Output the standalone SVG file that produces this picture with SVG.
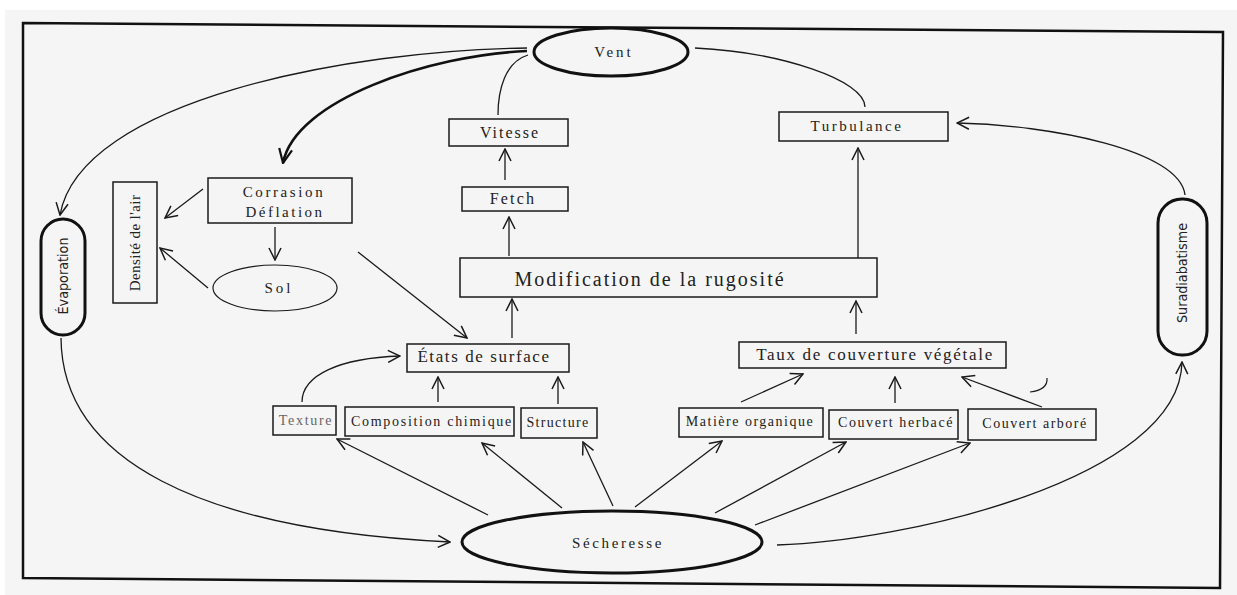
<svg xmlns="http://www.w3.org/2000/svg" width="1237" height="595" viewBox="0 0 1237 595">
<style>
.bg{fill:#f5f5f5}
.box{fill:none;stroke:#1a1a1a;stroke-width:1.5}
.thick{fill:none;stroke:#111;stroke-width:3}
.thin{fill:none;stroke:#1a1a1a;stroke-width:1.2}
.t{font-family:"Liberation Serif","Times New Roman",serif;fill:#222;text-anchor:middle}
.s{font-family:"DejaVu Sans","Liberation Sans",sans-serif;fill:#222;text-anchor:middle}
.c{fill:none;stroke:#1a1a1a;stroke-width:1.3}
.cb{fill:none;stroke:#111;stroke-width:2.6}
</style>
<defs>
<marker id="ah" viewBox="0 0 14 14" refX="13" refY="7" markerWidth="14" markerHeight="14" markerUnits="userSpaceOnUse" orient="auto">
<path d="M1,1 L13,7 L1,13" fill="none" stroke="#1a1a1a" stroke-width="1.5"/>
</marker>
<marker id="ahb" viewBox="0 0 16 16" refX="15" refY="8" markerWidth="16" markerHeight="16" markerUnits="userSpaceOnUse" orient="auto">
<path d="M1,1.5 L15,8 L1,14.5" fill="none" stroke="#111" stroke-width="2.2"/>
</marker>
</defs>
<rect x="0" y="0" width="1237" height="595" fill="#ffffff"/>
<rect class="bg" x="5" y="10" width="1232" height="585"/>
<polygon points="23,23 1223,32 1220,588 23,578" fill="none" stroke="#111" stroke-width="2.5"/>

<g id="connectors">
<path class="cb" d="M527,51 C430,55 295,100 283,163" marker-end="url(#ahb)"/>
<path class="c" d="M527,48 C350,50 80,100 60,215" marker-end="url(#ah)"/>
<path class="c" d="M528,55 C505,62 498,90 498,115"/>
<path class="c" d="M695,48 C780,52 865,80 865,107"/>
<path class="c" d="M505,180 L505,149" marker-end="url(#ah)"/>
<path class="c" d="M509,256 L509,217" marker-end="url(#ah)"/>
<path class="c" d="M858,258 L858,148" marker-end="url(#ah)"/>
<path class="c" d="M1185,195 C1180,150 1050,125 957,123" marker-end="url(#ah)"/>
<path class="c" d="M203,189 L165,218" marker-end="url(#ah)"/>
<path class="c" d="M275,227 L275,260" marker-end="url(#ah)"/>
<path class="c" d="M208,288 L160,248" marker-end="url(#ah)"/>
<path class="c" d="M358,252 L467,338" marker-end="url(#ah)"/>
<path class="c" d="M512,338 L512,299" marker-end="url(#ah)"/>
<path class="c" d="M856,334 L856,301" marker-end="url(#ah)"/>
<path class="c" d="M302,402 C302,375 340,358 400,356" marker-end="url(#ah)"/>
<path class="c" d="M438,402 L438,377" marker-end="url(#ah)"/>
<path class="c" d="M558,404 L558,377" marker-end="url(#ah)"/>
<path class="c" d="M741,402 L803,374" marker-end="url(#ah)"/>
<path class="c" d="M895,403 L895,377" marker-end="url(#ah)"/>
<path class="c" d="M1042,407 L962,377" marker-end="url(#ah)"/>
<path class="c" d="M488,515 L337,439" marker-end="url(#ah)"/>
<path class="c" d="M562,508 L482,443" marker-end="url(#ah)"/>
<path class="c" d="M613,506 L583,442" marker-end="url(#ah)"/>
<path class="c" d="M635,507 L722,441" marker-end="url(#ah)"/>
<path class="c" d="M715,513 L846,442" marker-end="url(#ah)"/>
<path class="c" d="M755,525 L970,443" marker-end="url(#ah)"/>
<path class="c" d="M777,545 C900,542 1180,480 1182,362" marker-end="url(#ah)"/>
<path class="c" d="M61,338 C62,460 200,530 450,542" marker-end="url(#ah)"/>
<path class="thin" d="M1030,392 Q1048,390 1047,378"/>
</g>

<g id="vent">
<ellipse class="thick" cx="611" cy="52" rx="77" ry="24"/>
<text class="t" x="614" y="57" font-size="15" letter-spacing="3">Vent</text>
</g>
<g id="vitesse">
<rect class="box" x="449" y="119" width="119" height="27"/>
<text class="t" x="510" y="138" font-size="16" letter-spacing="2">Vitesse</text>
</g>
<g id="fetch">
<rect class="box" x="462" y="187" width="106" height="24"/>
<text class="t" x="513" y="204" font-size="16" letter-spacing="2.2">Fetch</text>
</g>
<g id="turbulance">
<rect class="box" x="779" y="112" width="169" height="29"/>
<text class="t" x="857" y="131" font-size="15" letter-spacing="2.5">Turbulance</text>
</g>
<g id="modification">
<rect class="box" x="460" y="258" width="417" height="39"/>
<text class="t" x="650" y="286" font-size="20" letter-spacing="2">Modification de la rugosité</text>
</g>
<g id="evaporation">
<rect class="thick" x="41" y="219" width="44" height="116" rx="22" ry="22" stroke-width="2.6"/>
<text class="s" transform="translate(63,276) rotate(-90)" x="0" y="5" font-size="14" textLength="77" lengthAdjust="spacingAndGlyphs">Évaporation</text>
</g>
<g id="densite">
<rect class="box" x="113" y="182" width="44" height="121"/>
<text class="t" transform="translate(135,243) rotate(-90)" x="0" y="5" font-size="15" letter-spacing="0.4">Densité de l'air</text>
</g>
<g id="corrasion">
<rect class="box" x="208" y="178" width="144" height="45"/>
<text class="t" x="284" y="197" font-size="15" letter-spacing="2.6">Corrasion</text>
<text class="t" x="285" y="217" font-size="15" letter-spacing="2.5">Déflation</text>
</g>
<g id="sol">
<ellipse class="thin" cx="275" cy="288" rx="62" ry="23"/>
<text class="t" x="279" y="293" font-size="15" letter-spacing="3">Sol</text>
</g>
<g id="etats">
<rect class="box" x="407" y="344" width="162" height="28"/>
<text class="t" x="484" y="362" font-size="17" letter-spacing="1.6">États de surface</text>
</g>
<g id="taux">
<rect class="box" x="739" y="342" width="267" height="26"/>
<text class="t" x="875" y="360" font-size="17" letter-spacing="1.7">Taux de couverture végétale</text>
</g>
<g id="texture">
<rect class="box" x="273" y="406" width="63" height="29"/>
<text class="t" x="306" y="425" font-size="14" letter-spacing="1.7" fill="#666" style="fill:#666">Texture</text>
</g>
<g id="composition">
<rect class="box" x="345" y="407" width="169" height="29"/>
<text class="t" x="432" y="426" font-size="14" letter-spacing="1.7">Composition chimique</text>
</g>
<g id="structure">
<rect class="box" x="521" y="408" width="76" height="30"/>
<text class="t" x="558" y="427" font-size="14" letter-spacing="1.3">Structure</text>
</g>
<g id="matiere">
<rect class="box" x="679" y="408" width="144" height="29"/>
<text class="t" x="750" y="426" font-size="14" letter-spacing="1.5">Matière organique</text>
</g>
<g id="herbace">
<rect class="box" x="829" y="410" width="129" height="29"/>
<text class="t" x="896" y="427" font-size="14" letter-spacing="1.6">Couvert herbacé</text>
</g>
<g id="arbore">
<rect class="box" x="968" y="409" width="128" height="31"/>
<text class="t" x="1035" y="428" font-size="14" letter-spacing="1.5">Couvert arboré</text>
</g>
<g id="suradiabatisme">
<rect class="thick" x="1158" y="199" width="49" height="156" rx="24" ry="24" stroke-width="2.6"/>
<text class="s" transform="translate(1182,273) rotate(-90)" x="0" y="5" font-size="14" textLength="100" lengthAdjust="spacingAndGlyphs">Suradiabatisme</text>
</g>
<g id="secheresse">
<ellipse class="thick" cx="612" cy="542" rx="150" ry="31"/>
<text class="t" x="618" y="548" font-size="15" letter-spacing="2.6">Sécheresse</text>
</g>
</svg>
